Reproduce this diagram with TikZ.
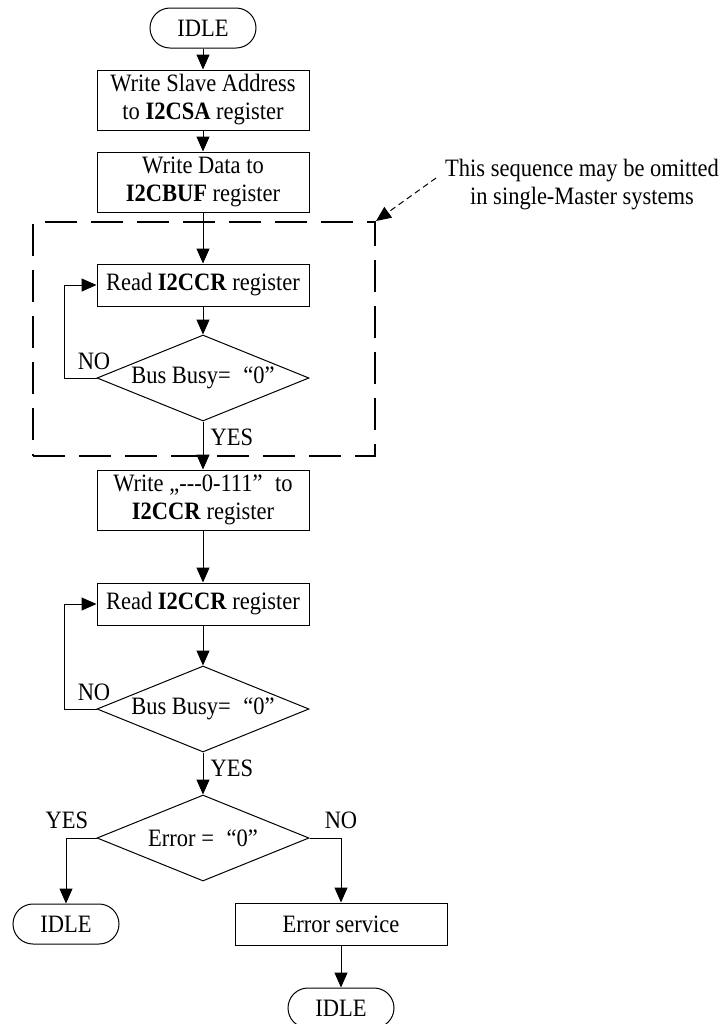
\documentclass[tikz,border=0pt]{standalone}
\usepackage{fontspec}
\setmainfont{Liberation Serif}[FakeStretch=0.9]
\usetikzlibrary{arrows.meta}
\usetikzlibrary{shapes.geometric}

\begin{document}
\begin{tikzpicture}[x=0.5pt,y=-0.5pt,>={Triangle[length=7.5pt,width=6.5pt]},line width=0.5pt,
    font=\fontsize{12.5}{14}\selectfont,
    box node/.style={draw,rectangle,align=center,minimum width=106pt,minimum height=21pt,inner sep=1pt},
    tall node/.style={box node,minimum height=30pt},
    test node/.style={draw,diamond,aspect=2.5,inner sep=0pt,minimum width=106pt,minimum height=43pt},
    idle node/.style={draw,rounded corners=10pt,minimum width=53pt,minimum height=20pt,inner sep=0pt},
    frame node/.style={draw,line width=1pt,dash pattern=on 16pt off 7pt,minimum width=171pt,minimum height=117pt,inner sep=0pt},
    label node/.style={inner sep=0pt}]
   \useasboundingbox (0,0) rectangle (724,1024);
   % main column
   \node[idle node] (idle) at (203,28) {IDLE};
   \node[tall node] (sa) at (203,100) {Write Slave Address\\to \textbf{I2CSA} register};
   \node[tall node] (buf) at (203,182) {Write Data to\\\textbf{I2CBUF} register};
   \node[frame node] (seq) at (204,339) {};
   \node[box node] (rd) at (203,285) {Read \textbf{I2CCR} register};
   \node[test node] (busy) at (203,378) {Bus Busy=\enspace“0”};
   \node[tall node] (cr) at (203,500) {Write „-{}-{}-0-111”\enspace to\\\textbf{I2CCR} register};
   \node[box node] (rdb) at (203,604) {Read \textbf{I2CCR} register};
   \node[test node] (busyb) at (203,709) {Bus Busy=\enspace“0”};
   \node[test node] (err) at (203,838) {Error =\enspace“0”};
   % exits
   \node[idle node] (idleok) at (66,924) {IDLE};
   \node[box node] (svc) at (341,924) {Error service};
   \node[idle node] (idleerr) at (341,1008) {IDLE};
   % note
   \node[align=center] (note) at (582,185) {This sequence may be omitted\\in single-Master systems};
   \coordinate (notetail) at (436,178);
   % labels
   \node[label node] (no1) at (94,361) {NO};
   \node[label node] (yes1) at (232,437) {YES};
   \node[label node] (no2) at (94,692) {NO};
   \node[label node] (yes2) at (232,768) {YES};
   \node[label node] (yes3) at (67,820) {YES};
   \node[label node] (no3) at (341,820) {NO};
   % connectors
   \path[->] (idle) edge (sa);
   \path[->] (sa) edge (buf);
   \path[->] (buf) edge (rd);
   \path[->] (rd) edge (busy);
   \path[->] (busy) edge (cr);
   \path[->] (cr) edge (rdb);
   \path[->] (rdb) edge (busyb);
   \path[->] (busyb) edge (err);
   \draw[->] (busy.west) -- ++(-32,0) |- (rd.west);
   \draw[->] (busyb.west) -- ++(-32,0) |- (rdb.west);
   \draw[->] (err.west) -| (idleok.north);
   \draw[->] (err.east) -| (svc.north);
   \path[->] (svc) edge (idleerr);
   \path[->,dash pattern=on 3pt off 2pt] (notetail) edge (seq.north east);
\end{tikzpicture}
\end{document}
